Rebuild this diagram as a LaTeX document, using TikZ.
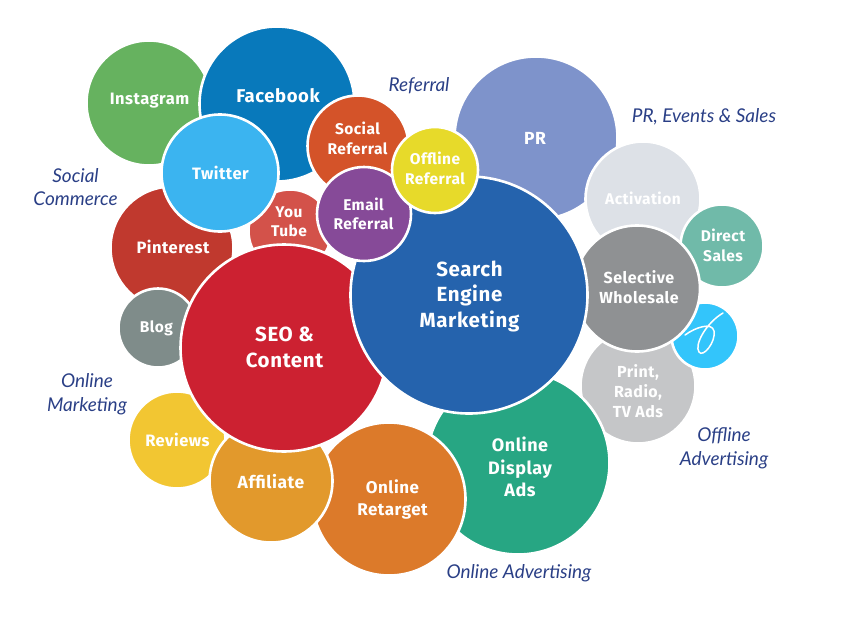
\documentclass[tikz,border=0pt]{standalone}
\usepackage{fontspec}
\setmainfont{Lato}
\newfontfamily\lblfont[LetterSpace=3]{Fira Sans}
\newfontfamily\capfont{Lato}
\definecolor{cInsta}{HTML}{66B25F}
\definecolor{cFace}{HTML}{0879BB}
\definecolor{cTwit}{HTML}{3BB4F0}
\definecolor{cSoc}{HTML}{D45329}
\definecolor{cOff}{HTML}{E7DA2A}
\definecolor{cMail}{HTML}{864A98}
\definecolor{cTube}{HTML}{D3524A}
\definecolor{cPin}{HTML}{C0392E}
\definecolor{cBlog}{HTML}{7F8C8A}
\definecolor{cSeo}{HTML}{CC2131}
\definecolor{cSem}{HTML}{2563AD}
\definecolor{cPr}{HTML}{7E93CB}
\definecolor{cAct}{HTML}{DDE1E7}
\definecolor{cDir}{HTML}{70BAA9}
\definecolor{cSel}{HTML}{8F9193}
\definecolor{cLogo}{HTML}{33C5FB}
\definecolor{cPrint}{HTML}{C5C6C8}
\definecolor{cDisp}{HTML}{27A683}
\definecolor{cRet}{HTML}{DC7A2A}
\definecolor{cAff}{HTML}{E2992C}
\definecolor{cRev}{HTML}{F2C632}
\definecolor{cCap}{HTML}{2A3F86}
\tikzset{
  bubble/.style={circle,draw=white,line width=2.6pt,inner sep=0pt,outer sep=0pt},
  lbl/.style={text=white,align=center,inner sep=0pt,font=\lblfont\bfseries\fontsize{#1}{\dimexpr#1pt*125/100\relax}\selectfont},
  lbl/.default=15,
  captext/.style={text=cCap,align=center,inner sep=0pt,font=\capfont\itshape\fontsize{19}{23.5}\selectfont},
}
% name, x, y, r, colour, text x, text y, font size, text
\newcommand{\bub}[9]{%
  \node[bubble,fill=#5,minimum size=#4*2pt+1pt] (#1) at (#2,#3) {};
  \node[lbl=#8] (#1-t) at (#6,#7) {#9};
}
\begin{document}
\begin{tikzpicture}[x=1pt,y=-1pt]
\useasboundingbox (0,0) rectangle (856,624);
\bub{insta}{149}{103}{62}{cInsta}{149.5}{100.5}{16.5}{Instagram}
\bub{face}{277}{104}{77}{cFace}{278}{96}{18.5}{Facebook}
\bub{pin}{172}{248}{61}{cPin}{173}{247}{16.5}{Pinterest}
\bub{tube}{290}{231}{41}{cTube}{289}{222}{15.5}{You\\Tube}
\bub{twit}{220}{173}{58}{cTwit}{220.5}{173}{16.5}{Twitter}
\bub{soc}{358}{146}{50}{cSoc}{357.5}{138.5}{15.5}{Social\\Referral}
\bub{pr}{536}{138}{81}{cPr}{535}{138}{17.5}{PR}
\bub{act}{643}{199}{57}{cAct}{643}{198}{15.5}{Activation}
\bub{dir}{722}{246}{41}{cDir}{723}{245.5}{15.5}{Direct\\Sales}
\bub{print}{638}{386}{57}{cPrint}{638}{391}{16}{Print,\\Radio,\\TV Ads}
\bub{logo}{705}{336}{33}{cLogo}{705}{336}{15}{}
\bub{sel}{637}{288.5}{62.5}{cSel}{639}{287.5}{16}{Selective\\Wholesale}
\bub{blog}{158}{328}{39}{cBlog}{156.5}{328}{15.5}{Blog}
\bub{rev}{177}{440}{48}{cRev}{177.5}{440}{16.5}{Reviews}
\bub{disp}{518}{463}{91}{cDisp}{520}{467}{18}{Online\\Display\\Ads}
\bub{ret}{389}{499}{76}{cRet}{392.5}{499.5}{17}{Online\\Retarget}
\bub{aff}{271}{481}{61}{cAff}{271}{482}{17.5}{Affiliate}
\bub{seo}{284}{348}{103}{cSeo}{284.5}{347.5}{20.5}{SEO \&\\Content}
\bub{sem}{469}{295}{118}{cSem}{469.5}{296.5}{20.5}{Search\\Engine\\Marketing}
\bub{mail}{364}{214}{46.5}{cMail}{363.5}{214}{15.5}{Email\\Referral}
\bub{off}{435}{170}{42.5}{cOff}{435}{168.5}{15.5}{Offline\\Referral}

\coordinate (s1) at (723,313);
\draw[white,line width=1.5pt,line cap=round]
  (s1) .. controls (706,323) and (694,345) .. (699,352)
  .. controls (703,358) and (716,342) .. (714,331)
  .. controls (712,322) and (696,327) .. (685,335);

\node[captext] (c1) at (419,86) {Referral};
\node[captext] (c2) at (704,117) {PR, Events \& Sales};
\node[captext] (c3) at (75.5,187) {Social\\Commerce};
\node[captext] (c4) at (87,394) {Online\\Marketing};
\node[captext] (c5) at (724,448.5) {Offline\\Advertising};
\node[captext] (c6) at (519,573) {Online Advertising};
\end{tikzpicture}
\end{document}
